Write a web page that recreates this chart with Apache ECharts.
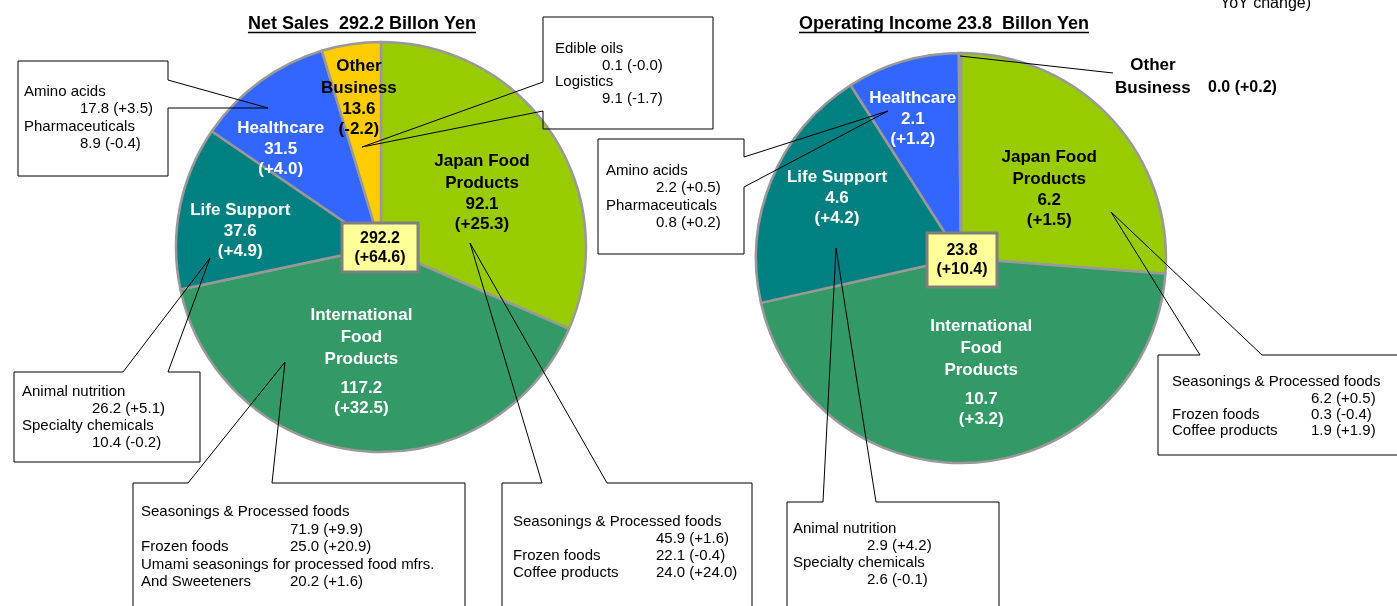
<!DOCTYPE html>
<html><head><meta charset="utf-8">
<script src="https://cdn.jsdelivr.net/npm/echarts@6/dist/echarts.min.js"></script>
<style>html,body{margin:0;padding:0;background:#fff}#c{width:1397px;height:606px}</style>
</head><body><div id="c"></div>
<script>
// ---------- data ----------
const segments = ['Japan Food\nProducts', 'International\nFood\nProducts', 'Life Support', 'Healthcare', 'Other\nBusiness'];
const salesValues = [92.1, 117.2, 37.6, 31.5, 13.6];
const salesChange = ['+25.3', '+32.5', '+4.9', '+4.0', '-2.2'];
const incomeValues = [6.2, 10.7, 4.6, 2.1, 0.04];
const incomeChange = ['+1.5', '+3.2', '+4.2', '+1.2', '+0.2'];
const salesTotal = '292.2';
const salesTotalChange = '+64.6';
const incomeTotal = '23.8';
const incomeTotalChange = '+10.4';
const noteText = 'YoY change)';

const salesHealthcareDetail = [['Amino acids', ''], ['', '17.8 (+3.5)'], ['Pharmaceuticals', ''], ['', '8.9 (-0.4)']];
const salesOtherDetail = [['Edible oils', ''], ['', '0.1 (-0.0)'], ['Logistics', ''], ['', '9.1 (-1.7)']];
const salesLifeDetail = [['Animal nutrition', ''], ['', '26.2 (+5.1)'], ['Specialty chemicals', ''], ['', '10.4 (-0.2)']];
const salesIntlDetail = [['Seasonings & Processed foods', ''], ['', '71.9 (+9.9)'], ['Frozen foods', '25.0 (+20.9)'], ['Umami seasonings for processed food mfrs.', ''], ['And Sweeteners', '20.2 (+1.6)']];
const salesJapanDetail = [['Seasonings & Processed foods', ''], ['', '45.9 (+1.6)'], ['Frozen foods', '22.1 (-0.4)'], ['Coffee products', '24.0 (+24.0)']];
const incomeHealthcareDetail = [['Amino acids', ''], ['', '2.2 (+0.5)'], ['Pharmaceuticals', ''], ['', '0.8 (+0.2)']];
const incomeLifeDetail = [['Animal nutrition', ''], ['', '2.9 (+4.2)'], ['Specialty chemicals', ''], ['', '2.6 (-0.1)']];
const incomeJapanDetail = [['Seasonings & Processed foods', ''], ['', '6.2 (+0.5)'], ['Frozen foods', '0.3 (-0.4)'], ['Coffee products', '1.9 (+1.9)']];

// ---------- layout / style ----------
const FONT = '"Liberation Sans", Arial, sans-serif';
const colors = ['#99CC00', '#339966', '#008080', '#3366FF', '#FFCC00'];
const darkText = [true, false, false, false, true];
const R = 205;
const salesCenter = [381, 247];
const incomeCenter = [961, 258];
const salesFracs = [0.56, 0.56, 0.70, 0.68, 0.74];
const incomeFracs = [0.54, 0.56, 0.67, 0.72, 0];
const salesShift = [[5, 8], [-8, 0], [0, 11], [-18, 14], [0, 0]];
const incomeShift = [[7, 6], [12, 0], [3, -8], [-6, 2], [0, 0]];

function labelPositions(values, c, r, fracs, shift) {
  const total = values.reduce((a, b) => a + b, 0);
  let acc = 0;
  return values.map((v, i) => {
    const mid = (acc + v / 2) / total * 2 * Math.PI;
    acc += v;
    return [c[0] + Math.sin(mid) * r * fracs[i] + shift[i][0], c[1] - Math.cos(mid) * r * fracs[i] + shift[i][1]];
  });
}

function pieSeries(values, changes, center, fracs, shift, hideIdx) {
  const pos = labelPositions(values, center, R, fracs, shift);
  const mk = (color, size, lh) => ({ color, fontFamily: FONT, fontWeight: 'bold', fontSize: size, lineHeight: lh });
  return {
    type: 'pie', center, radius: R, startAngle: 90, clockwise: true,
    animation: false, silent: true,
    itemStyle: { borderColor: '#999999', borderWidth: 2.5 },
    labelLine: { show: false },
    emphasis: { disabled: true },
    label: {
      show: true, position: 'inside',
      fontFamily: FONT, fontWeight: 'bold', fontSize: 17,
      formatter: (p) => {
        const i = p.dataIndex;
        const c = darkText[i] ? 'b' : 'w';
        const names = segments[i].split('\n').map(s => `{n${c}|${s}}`).join('\n');
        const gap = i === 1 ? '\n{g| }' : '';
        return names + gap + `\n{v${c}|${p.value.toFixed(1)}}\n{v${c}|(${changes[i]})}`;
      },
      rich: {
        nb: mk('#000', 17, 22), vb: mk('#000', 17, 20),
        nw: mk('#fff', 17, 22), vw: mk('#fff', 17, 20),
        g: { fontSize: 6, lineHeight: 8 }
      }
    },
    labelLayout: (p) => ({ x: pos[p.dataIndex][0], y: pos[p.dataIndex][1], align: 'center', verticalAlign: 'middle' }),
    data: values.map((v, i) => ({
      name: segments[i], value: v,
      itemStyle: { color: colors[i] },
      label: { show: i !== hideIdx }
    }))
  };
}

const callouts = [
  { lines: salesHealthcareDetail, x: 24, vx: 80, y0: 92, lh: 17.3,
    pts: [[168, 80], [168, 61], [18, 61], [18, 176], [168, 176], [168, 108], [268, 108]] },
  { lines: salesOtherDetail, x: 555, vx: 602, y0: 49, lh: 16.5,
    pts: [[543, 82], [543, 17], [713, 17], [713, 129], [543, 129], [543, 111], [362, 147]] },
  { lines: incomeHealthcareDetail, x: 606, vx: 656, y0: 171, lh: 17.3,
    pts: [[744, 157], [744, 139], [598, 139], [598, 254], [744, 254], [744, 187], [888, 111]] },
  { lines: salesLifeDetail, x: 22, vx: 92, y0: 392, lh: 17,
    pts: [[123, 372], [14, 372], [14, 462], [200, 462], [200, 372], [168, 372], [210, 258]] },
  { lines: salesIntlDetail, x: 141, vx: 290, y0: 512, lh: 17.5,
    pts: [[188, 483], [133, 483], [133, 640], [465, 640], [465, 483], [272, 483], [285, 362]] },
  { lines: salesJapanDetail, x: 513, vx: 656, y0: 522, lh: 17,
    pts: [[542, 483], [502, 483], [502, 640], [752, 640], [752, 483], [607, 483], [470, 243]] },
  { lines: incomeLifeDetail, x: 793, vx: 867, y0: 529, lh: 17,
    pts: [[823, 502], [787, 502], [787, 640], [999, 640], [999, 502], [876, 502], [836, 248]] },
  { lines: incomeJapanDetail, x: 1172, vx: 1311, y0: 382, lh: 16.4,
    pts: [[1200, 355], [1158, 355], [1158, 455], [1420, 455], [1420, 355], [1262, 355], [1111, 212]] }
];

const measure = (txt, font) => { const ctx = document.createElement('canvas').getContext('2d'); ctx.font = font; return ctx.measureText(txt).width; };

const graphics = [];
function txt(x, y, text, font, align, color) {
  graphics.push({ type: 'text', x, y, z: 20, silent: true,
    style: { text, font, fill: color || '#000', align: align || 'left', textAlign: align || 'left', verticalAlign: 'middle', textVerticalAlign: 'middle' } });
}
function line(pts, w) {
  graphics.push({ type: 'polyline', z: 15, silent: true, shape: { points: pts }, style: { stroke: '#000', lineWidth: w || 1, fill: null } });
}

// titles
const titleFont = 'bold 18px ' + FONT;
[[`Net Sales  ${salesTotal} Billon Yen`, 362], [`Operating Income ${incomeTotal}  Billon Yen`, 944]].forEach(([t, cx]) => {
  txt(cx, 24, t, titleFont, 'center');
  const w = measure(t, titleFont);
  line([[cx - w / 2, 32.5], [cx + w / 2, 32.5]], 1.3);
});
txt(1220, 4, noteText, '16px ' + FONT, 'left');

// callouts
const cFont = '15px ' + FONT;
callouts.forEach(c => {
  graphics.push({ type: 'polygon', z: 15, silent: true, shape: { points: c.pts }, style: { stroke: '#000', lineWidth: 1, fill: 'none' } });
  c.lines.forEach((row, k) => {
    const y = c.y0 + k * c.lh;
    if (row[0]) txt(c.x, y, row[0], cFont, 'left');
    if (row[1]) txt(c.vx, y, row[1], cFont, 'left');
  });
});

// other business (operating income) external label
line([[960, 56], [1113, 73]], 1);
txt(1153, 65, 'Other', 'bold 17px ' + FONT, 'center');
txt(1115, 88, 'Business', 'bold 17px ' + FONT, 'left');
txt(1208, 88, `${incomeValues[4].toFixed(1)} (${incomeChange[4]})`, 'bold 16px ' + FONT, 'left');

// center boxes
[[342, 223, 76, 49, salesTotal, salesTotalChange], [927, 233, 70, 54, incomeTotal, incomeTotalChange]].forEach(([x, y, w, h, a, b]) => {
  graphics.push({ type: 'rect', z: 18, silent: true, shape: { x, y, width: w, height: h }, style: { fill: '#FFFF99', stroke: '#808080', lineWidth: 3 } });
  txt(x + w / 2, y + h / 2 - 9, a, 'bold 16px ' + FONT, 'center');
  txt(x + w / 2, y + h / 2 + 10, `(${b})`, 'bold 16px ' + FONT, 'center');
});

const chart = echarts.init(document.getElementById('c'), null, { renderer: 'canvas' });
chart.setOption({
  animation: false,
  backgroundColor: '#fff',
  series: [
    pieSeries(salesValues, salesChange, salesCenter, salesFracs, salesShift, -1),
    pieSeries(incomeValues, incomeChange, incomeCenter, incomeFracs, incomeShift, 4)
  ],
  graphic: { elements: graphics }
});
</script></body></html>
